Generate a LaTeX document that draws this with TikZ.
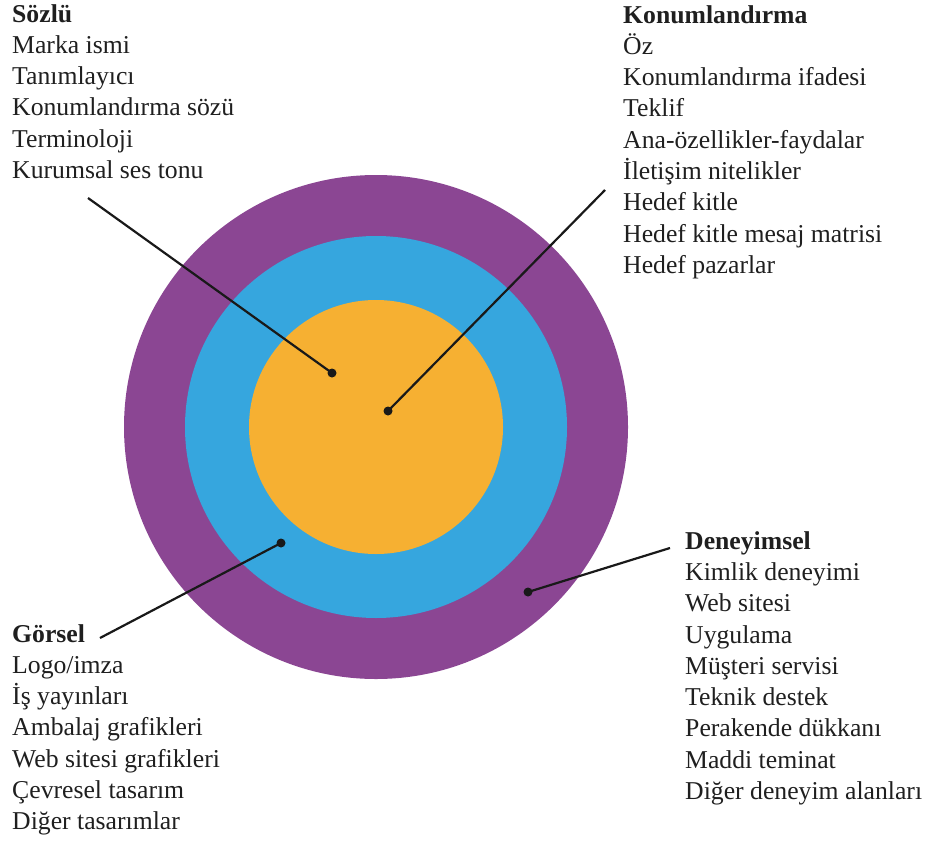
\documentclass[tikz,border=0pt]{standalone}
\usepackage{fontspec}
\setmainfont{Liberation Serif}
\usepackage{xcolor}

\definecolor{ringpurple}{RGB}{139,70,147}
\definecolor{ringblue}{RGB}{54,166,222}
\definecolor{ringorange}{RGB}{246,176,50}

\begin{document}
\begin{tikzpicture}[
    x=1pt, y=-1pt,
    list/.style={anchor=base west, inner sep=0pt, align=left, text=black!88,
                 font=\fontsize{25.7pt}{31.3pt}\selectfont},
    dot/.style={circle, fill=black!90, inner sep=0pt, minimum size=9pt},
    leader/.style={draw=black!90, line width=2.2pt}
]
    \useasboundingbox (0,0) rectangle (928,843);

    % rings
    \coordinate (mid) at (376,427);
    \fill[ringpurple] (mid) circle[radius=252pt];
    \fill[ringblue]   (mid) circle[radius=191pt];
    \fill[ringorange] (mid) circle[radius=127pt];

    % lists (anchored at the baseline of their last line)
    \node[list] (sozlu) at (12,178.5)
        {\textbf{Sözlü}\\Marka ismi\\Tanımlayıcı\\Konumlandırma sözü\\Terminoloji\\Kurumsal ses tonu};
    \node[list] (konum) at (623,273.4)
        {\textbf{Konumlandırma}\\Öz\\Konumlandırma ifadesi\\Teklif\\Ana-özellikler-faydalar\\İletişim nitelikler\\Hedef kitle\\Hedef kitle mesaj matrisi\\Hedef pazarlar};
    \node[list] (gorsel) at (12,829.8)
        {\textbf{Görsel}\\Logo/imza\\İş yayınları\\Ambalaj grafikleri\\Web sitesi grafikleri\\Çevresel tasarım\\Diğer tasarımlar};
    \node[list] (deney) at (685,799.5)
        {\textbf{Deneyimsel}\\Kimlik deneyimi\\Web sitesi\\Uygulama\\Müşteri servisi\\Teknik destek\\Perakende dükkanı\\Maddi teminat\\Diğer deneyim alanları};

    % dots and leaders
    \node[dot] (dsozlu)  at (332,373) {};
    \node[dot] (dkonum)  at (388,411) {};
    \node[dot] (dgorsel) at (281,543) {};
    \node[dot] (ddeney)  at (528,592) {};

    \coordinate (esozlu)  at (88,198);
    \coordinate (ekonum)  at (605,190);
    \coordinate (egorsel) at (100,638);
    \coordinate (edeney)  at (670,548);

    \draw[leader] (esozlu)  -- (dsozlu.center);
    \draw[leader] (ekonum)  -- (dkonum.center);
    \draw[leader] (egorsel) -- (dgorsel.center);
    \draw[leader] (edeney)  -- (ddeney.center);

\end{tikzpicture}
\end{document}
